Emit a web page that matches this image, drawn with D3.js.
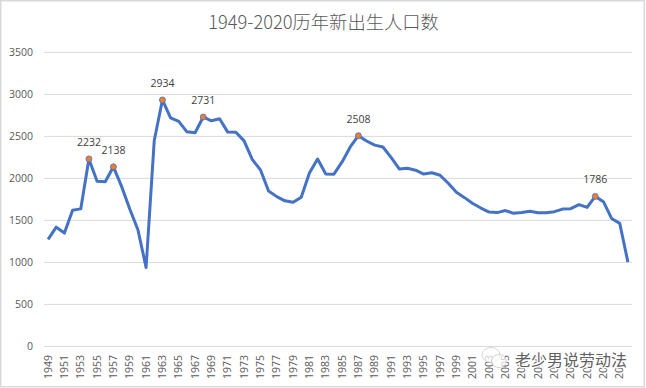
<!DOCTYPE html>
<html><head><meta charset="utf-8">
<style>html,body{margin:0;padding:0;background:#fff}svg{display:block}</style>
<script src="https://cdn.jsdelivr.net/npm/d3@7/dist/d3.min.js"></script>
</head><body><svg id="c" width="646" height="388"></svg>
<script>
const years = d3.range(1949, 2021);
const births = [1275,1419,1349,1622,1637,2232,1965,1961,2138,1905,1635,1389,940,2451,2934,2721,2679,2554,2543,2731,2686,2710,2551,2550,2447,2226,2102,1849,1783,1733,1715,1776,2064,2230,2052,2050,2196,2374,2508,2445,2396,2374,2250,2113,2120,2098,2052,2067,2038,1942,1834,1771,1702,1647,1599,1593,1617,1584,1594,1608,1591,1592,1604,1635,1640,1687,1655,1786,1723,1523,1465,1003];
const labeledYears = [1954,1957,1963,1968,1987,2016];
const yTicks = [0,500,1000,1500,2000,2500,3000,3500];
const titleText = "1949-2020历年新出生人口数";
const watermarkText = "老少男说劳动法";

const svg = d3.select("#c");
const font = "'Noto Sans CJK SC','Open Sans',sans-serif";
const W = 646, H = 388;
svg.append("rect").attr("x",0.75).attr("y",0.75).attr("width",W-2.5).attr("height",H-2).attr("fill","#fff").attr("stroke","#d9d9d9").attr("stroke-width",1.5);

const x = d3.scaleBand().domain(years).range([44,632]);
const px = d => x(d)+x.bandwidth()/2;
const y = d3.scaleLinear().domain([0,3500]).range([346.4,52.4]);

svg.append("g").selectAll("line").data(yTicks).join("line")
  .attr("x1",44).attr("x2",632).attr("y1",d=>y(d)).attr("y2",d=>y(d))
  .attr("stroke","#d9d9d9").attr("stroke-width",1);
const yAxis = d3.axisLeft(y).tickValues(yTicks).tickSize(0).tickPadding(11).tickFormat(d3.format("d"));
const gy = svg.append("g").attr("transform","translate(44,0)").call(yAxis);
gy.select(".domain").remove();
gy.selectAll("text").attr("font-family","'Open Sans',sans-serif").attr("font-size",10.5).attr("fill","#595959");

const xAxis = d3.axisBottom(x).tickValues(years.filter(d=>(d-1949)%2===0)).tickSize(0).tickFormat(d3.format("d"));
const gx = svg.append("g").attr("transform","translate(0,346.4)").call(xAxis);
gx.select(".domain").remove();
gx.selectAll("text").attr("font-family","'Open Sans',sans-serif").attr("font-size",10.5).attr("fill","#595959")
  .attr("text-anchor","end").attr("dy","0.35em")
  .attr("transform","translate(0,8.5) rotate(-90)").attr("x",0).attr("y",0);

const line = d3.line().x((d,i)=>px(years[i])).y(d=>y(d));
svg.append("path").datum(births).attr("d",line).attr("fill","none").attr("stroke","#4472c4").attr("stroke-width",3).attr("stroke-linejoin","round");

const pts = labeledYears.map(yr=>({yr,v:births[yr-1949]}));
svg.append("g").selectAll("circle").data(pts).join("circle")
  .attr("cx",d=>px(d.yr)).attr("cy",d=>y(d.v)).attr("r",3).attr("fill","#ed7d31").attr("stroke","#4472c4").attr("stroke-width",0.8);
svg.append("g").selectAll("text").data(pts).join("text")
  .attr("x",d=>px(d.yr)).attr("y",d=>y(d.v)-13).attr("text-anchor","middle")
  .attr("font-family","'Open Sans',sans-serif").attr("font-size",10.5).attr("fill","#404040").text(d=>d.v);

svg.append("text").attr("x",323.5).attr("y",29).attr("text-anchor","middle")
  .attr("font-family",font).attr("font-size",18.3).attr("font-weight",300).attr("fill","#595959").text(titleText);

const wm = svg.append("g").attr("fill","#fff").attr("fill-opacity",0.7).attr("stroke","#c8c8c8").attr("stroke-width",0.8);
wm.append("ellipse").attr("cx",491).attr("cy",355).attr("rx",9).attr("ry",7.5);
wm.append("ellipse").attr("cx",499).attr("cy",361).attr("rx",7.5).attr("ry",6.5);
svg.append("text").attr("x",515).attr("y",366).attr("font-family",font).attr("font-size",16)
  .attr("fill","#5f5f5f").attr("stroke","#fff").attr("stroke-width",2.5).attr("paint-order","stroke").text(watermarkText);
</script></body></html>
